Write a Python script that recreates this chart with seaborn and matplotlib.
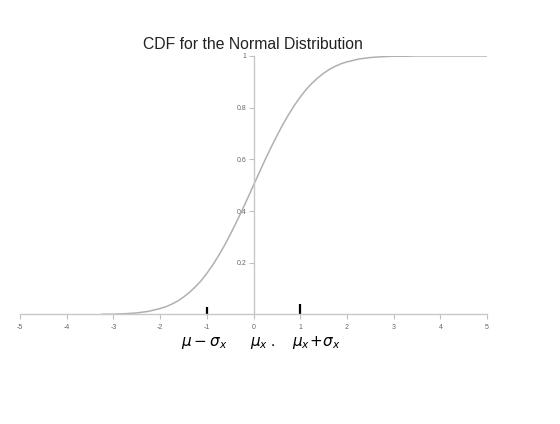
import seaborn as sns
import matplotlib.pyplot as plt
import pandas as pd

# values
x_vals = [-3.25, -3.0, -2.75, -2.5, -2.25, -2.0, -1.875, -1.75, -1.625, -1.5,
          -1.375, -1.25, -1.125, -1.0, -0.875, -0.75, -0.625, -0.5, -0.375, -0.25,
          -0.125, 0.0, 0.125, 0.25, 0.375, 0.5, 0.625, 0.75, 0.875, 1.0,
          1.125, 1.25, 1.375, 1.5, 1.625, 1.75, 1.875, 2.0, 2.25, 2.5,
          2.75, 3.0, 3.25, 3.5, 4.0, 4.5, 5.0]
cdf_vals = [0.001, 0.001, 0.003, 0.006, 0.012, 0.023, 0.030, 0.040, 0.052, 0.067,
            0.085, 0.106, 0.130, 0.159, 0.191, 0.227, 0.266, 0.309, 0.354, 0.401,
            0.450, 0.500, 0.550, 0.599, 0.646, 0.691, 0.734, 0.773, 0.809, 0.841,
            0.870, 0.894, 0.915, 0.933, 0.948, 0.960, 0.970, 0.977, 0.988, 0.994,
            0.997, 0.999, 0.999, 1.0, 1.0, 1.0, 1.0]
x_ticks = [-5, -4, -3, -2, -1, 0, 1, 2, 3, 4, 5]
y_ticks = [0.2, 0.4, 0.6, 0.8, 1]
marks = [-1, 0, 1]
mark_labels = [r"$\mu-\sigma_x$", r"$\mu_x$ .", r"$\mu_x\!+\!\sigma_x$"]

data = pd.DataFrame({"x": x_vals, "cdf": cdf_vals})

sns.set_style("white")
plt.rcParams['font.family'] = ['Liberation Sans', 'DejaVu Sans']

fig = plt.figure(figsize=(5.6, 4.24), dpi=100)
ax = fig.add_axes([0.0357, 0.2583, 0.834, 0.6097])

sns.lineplot(x="x", y="cdf", data=data, color="#b0b0b0", linewidth=1.1, ax=ax)

ax.set_xlim(-5, 5)
ax.set_ylim(0, 1)
ax.spines['left'].set_position(('data', 0))
ax.spines['bottom'].set_position(('data', 0))
ax.spines['right'].set_visible(False)
ax.spines['top'].set_visible(False)
for s in ['left', 'bottom']:
    ax.spines[s].set_color("#c8c8c8")
    ax.spines[s].set_linewidth(1.0)

ax.set_xticks(x_ticks)
ax.set_xticklabels([str(t) for t in x_ticks])
ax.set_yticks(y_ticks)
ax.set_yticklabels(["0.2", "0.4", "0.6", "0.8", "1"])
ax.tick_params(axis='both', direction='out', length=3.5, width=0.8,
               bottom=True, left=True,
               color="#c0c0c0", labelsize=5, labelcolor="#666666", pad=1.5)
ax.tick_params(axis='x', pad=3)
ax.set_xlabel("")
ax.set_ylabel("")
ax.grid(False)

fig.text(0.452, 0.894, "CDF for the Normal Distribution", ha='center', va='center',
         fontsize=11.3, color="#222222")

# hand-drawn marks below the axis
for m in [-1, 1]:
    ax.plot([m, m], [0.0, 0.03 if m < 0 else 0.04], color="black", linewidth=1.6,
            solid_capstyle='butt', clip_on=False)
for m, lab, dx in zip(marks, mark_labels, [-0.05, 0.2, 0.35]):
    ax.text(m + dx, -0.11, lab, ha='center', va='center', fontsize=11,
            color="black", clip_on=False)

fig.savefig("out.png", dpi=100)
